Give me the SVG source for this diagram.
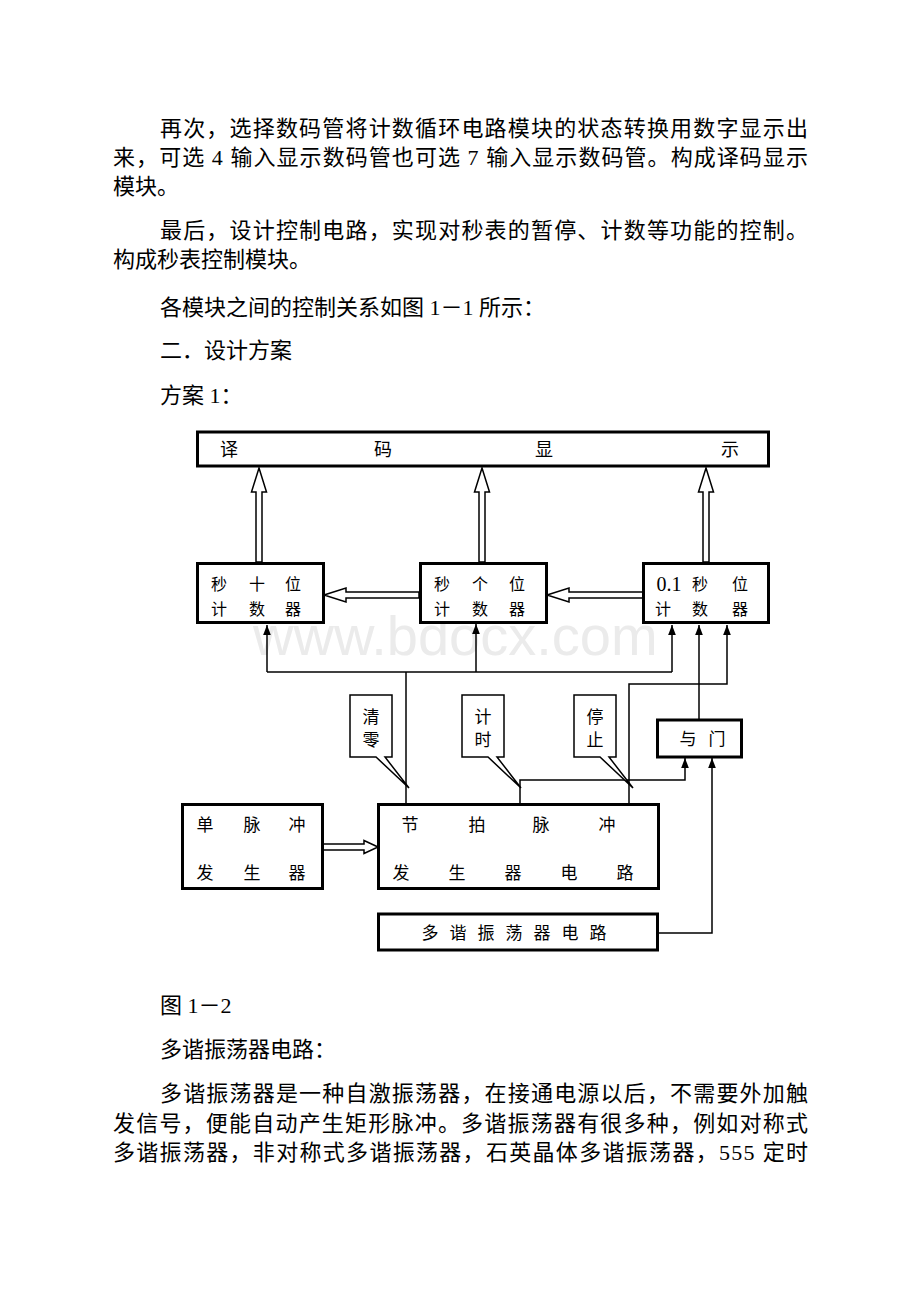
<svg xmlns="http://www.w3.org/2000/svg" width="920" height="1302" viewBox="0 0 920 1302">
<defs>
<style>
.p{font-family:"Liberation Serif","Noto Sans CJK SC",serif;font-size:22px;fill:#000}
.l{font-family:"Liberation Serif","Noto Sans CJK SC",serif;font-size:17px;fill:#000;text-anchor:middle;dominant-baseline:central}
.c{font-size:16px}
.box{fill:#fff;stroke:#000;stroke-width:3}
.call{fill:#fff;stroke:#000;stroke-width:1.5;stroke-linejoin:miter}
.hol{fill:#fff;stroke:#000;stroke-width:1.5;stroke-linejoin:miter}
.w{fill:none;stroke:#000;stroke-width:1.5}
.wm{font-family:"Liberation Sans",Arial,sans-serif;font-size:56px;fill:#ebebeb}
</style>
<marker id="up" markerUnits="userSpaceOnUse" markerWidth="10" markerHeight="13" refX="13" refY="5" orient="auto" viewBox="0 0 13 10">
<path d="M0,0 L13,5 L0,10 Z" fill="#000"/>
</marker>
</defs>
<rect width="920" height="1302" fill="#fff"/>

<g id="text">
<text class="p" x="160" y="136" textLength="648" lengthAdjust="spacing">再次，选择数码管将计数循环电路模块的状态转换用数字显示出</text>
<text class="p" x="113" y="165" textLength="695" lengthAdjust="spacing">来，可选 4 输入显示数码管也可选 7 输入显示数码管。构成译码显示</text>
<text class="p" x="113" y="194">模块。</text>
<text class="p" x="160" y="238" textLength="648" lengthAdjust="spacing">最后，设计控制电路，实现对秒表的暂停、计数等功能的控制。</text>
<text class="p" x="113" y="267">构成秒表控制模块。</text>
<text class="p" x="160" y="315">各模块之间的控制关系如图 1－1 所示：</text>
<text class="p" x="160" y="358">二．设计方案</text>
<text class="p" x="160" y="403">方案 1：</text>
<text class="p" x="160" y="1013">图 1－2</text>
<text class="p" x="160" y="1057">多谐振荡器电路：</text>
<text class="p" x="160" y="1101" textLength="648" lengthAdjust="spacing">多谐振荡器是一种自激振荡器，在接通电源以后，不需要外加触</text>
<text class="p" x="113" y="1131" textLength="695" lengthAdjust="spacing">发信号，便能自动产生矩形脉冲。多谐振荡器有很多种，例如对称式</text>
<text class="p" x="113" y="1160" textLength="695" lengthAdjust="spacing">多谐振荡器，非对称式多谐振荡器，石英晶体多谐振荡器，555 定时</text>
</g>

<g id="watermark">
<text class="wm" x="253" y="655">www.bdocx.com</text>
</g>

<g id="connectors">
<polygon class="hol" points="259,468 266.5,492 262,492 262,562 256,562 256,492 251.5,492"/>
<polygon class="hol" points="482,468 489.5,492 485,492 485,562 479,562 479,492 474.5,492"/>
<polygon class="hol" points="706,468 713.5,492 709,492 709,562 703,562 703,492 698.5,492"/>
<polygon class="hol" points="324,595 346,588 346,592 419,592 419,598 346,598 346,602"/>
<polygon class="hol" points="547,595 569,588 569,592 643,592 643,598 569,598 569,602"/>
<polygon class="hol" points="378,847 364,840.5 364,844 323,844 323,850 364,850 364,853.5"/>
<path class="w" d="M267,672 H672"/>
<path class="w" d="M267,672 V625" marker-end="url(#up)"/>
<path class="w" d="M476,672 V624" marker-end="url(#up)"/>
<path class="w" d="M672,672 V625" marker-end="url(#up)"/>
<path class="w" d="M406,804 V672"/>
<path class="w" d="M699,719 V625" marker-end="url(#up)"/>
<path class="w" d="M629,804 V684 H727 V625" marker-end="url(#up)"/>
<path class="w" d="M520,804 V780 H685 V758" marker-end="url(#up)"/>
<path class="w" d="M658,933 H712 V758" marker-end="url(#up)"/>
</g>

<g id="decoder">
<rect class="box" x="197.5" y="432" width="571" height="34"/>
<text class="l" style="font-size:18px" x="229" y="450">译</text>
<text class="l" style="font-size:18px" x="383" y="450">码</text>
<text class="l" style="font-size:18px" x="544" y="450">显</text>
<text class="l" style="font-size:18px" x="730" y="450">示</text>
</g>

<g id="counter-tens">
<rect class="box" x="197.5" y="563.5" width="126" height="59"/>
<text class="l c" x="219" y="584">秒</text>
<text class="l c" x="257" y="584">十</text>
<text class="l c" x="293" y="584">位</text>
<text class="l c" x="219" y="609">计</text>
<text class="l c" x="257" y="609">数</text>
<text class="l c" x="293" y="609">器</text>
</g>

<g id="counter-units">
<rect class="box" x="420.5" y="563.5" width="126" height="59"/>
<text class="l c" x="442" y="584">秒</text>
<text class="l c" x="480" y="584">个</text>
<text class="l c" x="517" y="584">位</text>
<text class="l c" x="442" y="609">计</text>
<text class="l c" x="480" y="609">数</text>
<text class="l c" x="517" y="609">器</text>
</g>

<g id="counter-tenths">
<rect class="box" x="643.5" y="563.5" width="125" height="59"/>
<text class="l" style="font-size:20px" x="669" y="584">0.1</text>
<text class="l c" x="700" y="584">秒</text>
<text class="l c" x="740" y="584">位</text>
<text class="l c" x="663" y="609">计</text>
<text class="l c" x="700" y="609">数</text>
<text class="l c" x="740" y="609">器</text>
</g>

<g id="callout-clear">
<path class="call" d="M350,695 H392 V757 H385 L409,788 L376,757 H350 Z"/>
<text class="l" x="371" y="717">清</text>
<text class="l" x="371" y="740">零</text>
</g>

<g id="callout-time">
<path class="call" d="M462,695 H504 V757 H497 L521,788 L488,757 H462 Z"/>
<text class="l" x="483" y="717">计</text>
<text class="l" x="483" y="740">时</text>
</g>

<g id="callout-stop">
<path class="call" d="M574,695 H616 V757 H609 L633,788 L600,757 H574 Z"/>
<text class="l" x="595" y="717">停</text>
<text class="l" x="595" y="740">止</text>
</g>

<g id="and-gate">
<rect class="box" x="657.5" y="720" width="84" height="37"/>
<text class="l" x="688" y="739">与</text>
<text class="l" x="717" y="739">门</text>
</g>

<g id="single-pulse">
<rect class="box" x="182.5" y="804.5" width="140" height="84"/>
<text class="l" x="205" y="825">单</text>
<text class="l" x="252" y="825">脉</text>
<text class="l" x="297" y="825">冲</text>
<text class="l" x="205" y="873">发</text>
<text class="l" x="252" y="873">生</text>
<text class="l" x="297" y="873">器</text>
</g>

<g id="beat-pulse">
<rect class="box" x="378.5" y="804.5" width="280" height="84"/>
<text class="l" x="410" y="825">节</text>
<text class="l" x="477" y="825">拍</text>
<text class="l" x="541" y="825">脉</text>
<text class="l" x="607" y="825">冲</text>
<text class="l" x="401" y="873">发</text>
<text class="l" x="457" y="873">生</text>
<text class="l" x="513" y="873">器</text>
<text class="l" x="569" y="873">电</text>
<text class="l" x="625" y="873">路</text>
</g>

<g id="oscillator">
<rect class="box" x="378.5" y="914" width="279" height="36"/>
<text class="l" x="430" y="933">多</text>
<text class="l" x="458" y="933">谐</text>
<text class="l" x="486" y="933">振</text>
<text class="l" x="514" y="933">荡</text>
<text class="l" x="542" y="933">器</text>
<text class="l" x="570" y="933">电</text>
<text class="l" x="598" y="933">路</text>
</g>
</svg>
